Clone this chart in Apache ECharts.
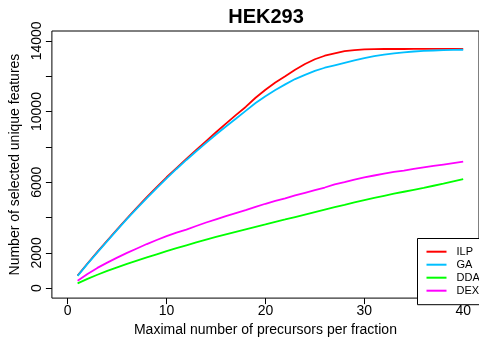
<!DOCTYPE html>
<html>
<head>
<meta charset="utf-8">
<script src="https://cdn.jsdelivr.net/npm/echarts@6/dist/echarts.min.js"></script>
<style>
html,body{margin:0;padding:0;background:#fff;}
#chart{width:479px;height:342px;}
</style>
</head>
<body>
<div id="chart"></div>
<script>
var xValues = [1,2,3,4,5,6,7,8,9,10,11,12,13,14,15,16,17,18,19,20,21,22,23,24,25,26,27,28,29,30,31,32,33,34,35,36,37,38,39,40];
var ILP = [720,1400,2060,2700,3330,3960,4560,5150,5720,6280,6800,7320,7830,8330,8830,9320,9800,10260,10780,11230,11640,12000,12370,12690,12960,13160,13300,13420,13480,13520,13535,13540,13540,13540,13545,13545,13545,13545,13545,13545];
var GA = [700,1380,2030,2670,3300,3920,4520,5100,5670,6220,6750,7260,7750,8230,8700,9150,9590,10040,10480,10870,11220,11540,11840,12080,12300,12480,12620,12760,12900,13030,13140,13220,13290,13350,13400,13430,13455,13475,13490,13500];
var DDA = [270,530,760,980,1180,1380,1560,1740,1920,2100,2270,2430,2590,2750,2900,3050,3190,3330,3470,3610,3760,3890,4030,4170,4310,4450,4590,4720,4860,4990,5110,5230,5350,5460,5570,5680,5800,5920,6050,6180];
var DEX = [420,800,1150,1450,1730,2000,2250,2500,2730,2950,3150,3320,3520,3720,3900,4080,4250,4420,4600,4780,4940,5090,5250,5400,5550,5700,5880,6000,6150,6270,6380,6480,6580,6660,6750,6840,6920,7000,7080,7160];
var seriesNames = ['ILP','GA','DDA','DEX'];
var seriesColors = ['#ff0000','#00bfff','#00ff00','#ff00ff'];
var xTicks = [0,10,20,30,40];
var yTicks = [0,2000,4000,6000,8000,10000,12000,14000];
var yLabels = [0,2000,6000,10000,14000];

function pairs(ys){ return xValues.map(function(x,i){ return [x, ys[i]]; }); }
var allData = [ILP, GA, DDA, DEX];

var font = 'Liberation Sans';
var chart = echarts.init(document.getElementById('chart'), null, {renderer:'canvas'});
chart.setOption({
  animation: false,
  backgroundColor: '#ffffff',
  title: {
    text: 'HEK293',
    left: 266,
    textAlign: 'center',
    top: 7,
    padding: 0,
    textStyle: {fontFamily: font, fontWeight: 'bold', fontSize: 20, color: '#000'}
  },
  grid: {
    left: 48, top: 31, width: 436.7, height: 274,
    show: true, borderColor: '#000', borderWidth: 1, backgroundColor: 'transparent',
    containLabel: false
  },
  xAxis: {
    type: 'value', min: -1.6, max: 41.6,
    name: 'Maximal number of precursors per fraction',
    nameLocation: 'middle', nameGap: 23,
    nameTextStyle: {fontFamily: font, fontSize: 14, color: '#000'},
    axisLine: {show: false, onZero: false},
    splitLine: {show: false},
    axisTick: {show: true, length: 6, customValues: xTicks, lineStyle: {color: '#000'}},
    axisLabel: {customValues: xTicks, margin: 6, fontFamily: font, fontSize: 14, color: '#000',
      formatter: function(v){ return String(v); }}
  },
  yAxis: {
    type: 'value', min: -560, max: 14560,
    name: 'Number of selected unique features',
    nameLocation: 'middle', nameGap: 24, nameRotate: 90,
    nameTextStyle: {fontFamily: font, fontSize: 14, color: '#000'},
    axisLine: {show: false, onZero: false},
    splitLine: {show: false},
    axisTick: {show: true, length: 6, customValues: yTicks, lineStyle: {color: '#000'}},
    axisLabel: {customValues: yLabels, rotate: 90, margin: 8, fontFamily: font, fontSize: 14, color: '#000',
      formatter: function(v){ return String(v); }}
  },
  legend: {
    orient: 'vertical',
    left: 417.5, top: 238.5,
    padding: [6.7, 30, 7.5, 9],
    itemWidth: 20, itemHeight: 2, itemGap: 0,
    icon: 'rect',
    backgroundColor: '#ffffff',
    borderColor: '#000', borderWidth: 1,
    textStyle: {fontFamily: font, fontSize: 11, lineHeight: 13, color: '#000', padding: [0,0,0,5]},
    data: seriesNames
  },
  series: seriesNames.map(function(n, i){
    return {
      name: n, type: 'line', data: pairs(allData[i]),
      symbol: 'none', smooth: false,
      color: seriesColors[i],
      lineStyle: {width: 1.8, color: seriesColors[i]},
      z: 2
    };
  })
});
</script>
</body>
</html>
